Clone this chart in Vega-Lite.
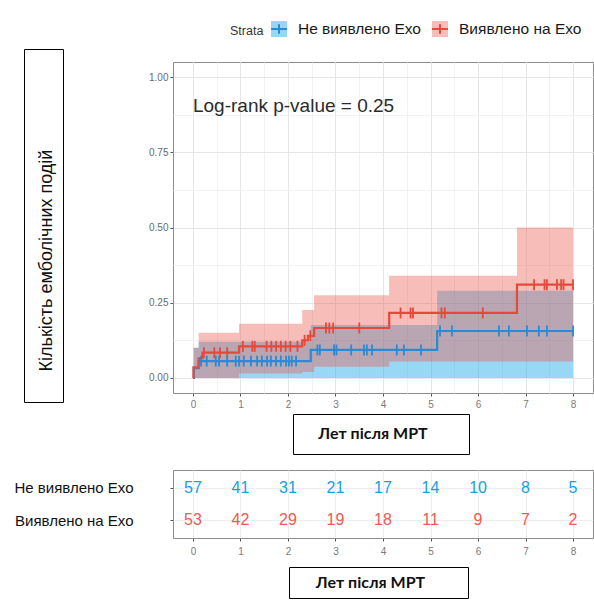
{
  "$schema": "https://vega.github.io/schema/vega-lite/v6.json",
  "padding": {"top": 20, "left": 0, "right": 0, "bottom": 0},
  "autosize": {"type": "pad"},
  "spacing": 0,
  "config": {
    "font": "Liberation Sans",
    "view": {"stroke": null},
    "concat": {"spacing": 0}
  },
  "datasets": {
    "blank": [{}],
    "ytitle": [{"t": "Кількість емболічних подій"}],
    "xtitle": [{"t": "Лет після МРТ"}],
    "note": [{"t": "Log-rank p-value = 0.25"}],
    "groups": [{"strata": "Не виявлено Ехо"}, {"strata": "Виявлено на Ехо"}],
    "lines": [
      {"strata": "Не виявлено Ехо", "time": 0, "p": 0},
      {"strata": "Не виявлено Ехо", "time": 0.02, "p": 0.033},
      {"strata": "Не виявлено Ехо", "time": 0.12, "p": 0.056},
      {"strata": "Не виявлено Ехо", "time": 2.48, "p": 0.093},
      {"strata": "Не виявлено Ехо", "time": 5.14, "p": 0.156},
      {"strata": "Не виявлено Ехо", "time": 8, "p": 0.156},
      {"strata": "Виявлено на Ехо", "time": 0, "p": 0},
      {"strata": "Виявлено на Ехо", "time": 0.01, "p": 0.035},
      {"strata": "Виявлено на Ехо", "time": 0.12, "p": 0.065},
      {"strata": "Виявлено на Ехо", "time": 0.2, "p": 0.084},
      {"strata": "Виявлено на Ехо", "time": 0.97, "p": 0.105},
      {"strata": "Виявлено на Ехо", "time": 2.3, "p": 0.125},
      {"strata": "Виявлено на Ехо", "time": 2.42, "p": 0.14},
      {"strata": "Виявлено на Ехо", "time": 2.55, "p": 0.166},
      {"strata": "Виявлено на Ехо", "time": 4.13, "p": 0.216},
      {"strata": "Виявлено на Ехо", "time": 6.82, "p": 0.31},
      {"strata": "Виявлено на Ехо", "time": 8, "p": 0.31}
    ],
    "bands": [
      {"strata": "Не виявлено Ехо", "time": 0.02, "lo": 0, "hi": 0.1},
      {"strata": "Не виявлено Ехо", "time": 0.12, "lo": 0, "hi": 0.12},
      {"strata": "Не виявлено Ехо", "time": 2.48, "lo": 0, "hi": 0.176},
      {"strata": "Не виявлено Ехо", "time": 5.14, "lo": 0, "hi": 0.29},
      {"strata": "Не виявлено Ехо", "time": 8, "lo": 0, "hi": 0.29},
      {"strata": "Виявлено на Ехо", "time": 0.01, "lo": 0, "hi": 0.1},
      {"strata": "Виявлено на Ехо", "time": 0.12, "lo": 0, "hi": 0.15},
      {"strata": "Виявлено на Ехо", "time": 0.97, "lo": 0.015, "hi": 0.18},
      {"strata": "Виявлено на Ехо", "time": 2.3, "lo": 0.02, "hi": 0.226},
      {"strata": "Виявлено на Ехо", "time": 2.55, "lo": 0.037, "hi": 0.275},
      {"strata": "Виявлено на Ехо", "time": 4.13, "lo": 0.055, "hi": 0.34},
      {"strata": "Виявлено на Ехо", "time": 6.82, "lo": 0.055, "hi": 0.5},
      {"strata": "Виявлено на Ехо", "time": 8, "lo": 0.055, "hi": 0.5}
    ],
    "censor": [
      {"strata": "Виявлено на Ехо", "time": 0.23, "p": 0.084},
      {"strata": "Виявлено на Ехо", "time": 0.45, "p": 0.084},
      {"strata": "Виявлено на Ехо", "time": 0.57, "p": 0.084},
      {"strata": "Виявлено на Ехо", "time": 0.72, "p": 0.084},
      {"strata": "Виявлено на Ехо", "time": 1.05, "p": 0.105},
      {"strata": "Виявлено на Ехо", "time": 1.25, "p": 0.105},
      {"strata": "Виявлено на Ехо", "time": 1.3, "p": 0.105},
      {"strata": "Виявлено на Ехо", "time": 1.55, "p": 0.105},
      {"strata": "Виявлено на Ехо", "time": 1.65, "p": 0.105},
      {"strata": "Виявлено на Ехо", "time": 1.75, "p": 0.105},
      {"strata": "Виявлено на Ехо", "time": 1.85, "p": 0.105},
      {"strata": "Виявлено на Ехо", "time": 1.95, "p": 0.105},
      {"strata": "Виявлено на Ехо", "time": 2.05, "p": 0.105},
      {"strata": "Виявлено на Ехо", "time": 2.2, "p": 0.105},
      {"strata": "Виявлено на Ехо", "time": 2.35, "p": 0.125},
      {"strata": "Виявлено на Ехо", "time": 2.47, "p": 0.14},
      {"strata": "Виявлено на Ехо", "time": 2.8, "p": 0.166},
      {"strata": "Виявлено на Ехо", "time": 2.87, "p": 0.166},
      {"strata": "Виявлено на Ехо", "time": 2.95, "p": 0.166},
      {"strata": "Виявлено на Ехо", "time": 3.5, "p": 0.166},
      {"strata": "Виявлено на Ехо", "time": 4.37, "p": 0.216},
      {"strata": "Виявлено на Ехо", "time": 4.58, "p": 0.216},
      {"strata": "Виявлено на Ехо", "time": 4.63, "p": 0.216},
      {"strata": "Виявлено на Ехо", "time": 5.23, "p": 0.216},
      {"strata": "Виявлено на Ехо", "time": 5.3, "p": 0.216},
      {"strata": "Виявлено на Ехо", "time": 6.1, "p": 0.216},
      {"strata": "Виявлено на Ехо", "time": 7.18, "p": 0.31},
      {"strata": "Виявлено на Ехо", "time": 7.4, "p": 0.31},
      {"strata": "Виявлено на Ехо", "time": 7.45, "p": 0.31},
      {"strata": "Виявлено на Ехо", "time": 7.66, "p": 0.31},
      {"strata": "Виявлено на Ехо", "time": 7.75, "p": 0.31},
      {"strata": "Виявлено на Ехо", "time": 7.8, "p": 0.31},
      {"strata": "Виявлено на Ехо", "time": 8.0, "p": 0.31},
      {"strata": "Не виявлено Ехо", "time": 0.17, "p": 0.056},
      {"strata": "Не виявлено Ехо", "time": 0.29, "p": 0.056},
      {"strata": "Не виявлено Ехо", "time": 0.48, "p": 0.056},
      {"strata": "Не виявлено Ехо", "time": 0.55, "p": 0.056},
      {"strata": "Не виявлено Ехо", "time": 0.72, "p": 0.056},
      {"strata": "Не виявлено Ехо", "time": 0.9, "p": 0.056},
      {"strata": "Не виявлено Ехо", "time": 0.97, "p": 0.056},
      {"strata": "Не виявлено Ехо", "time": 1.07, "p": 0.056},
      {"strata": "Не виявлено Ехо", "time": 1.22, "p": 0.056},
      {"strata": "Не виявлено Ехо", "time": 1.35, "p": 0.056},
      {"strata": "Не виявлено Ехо", "time": 1.45, "p": 0.056},
      {"strata": "Не виявлено Ехо", "time": 1.56, "p": 0.056},
      {"strata": "Не виявлено Ехо", "time": 1.64, "p": 0.056},
      {"strata": "Не виявлено Ехо", "time": 1.75, "p": 0.056},
      {"strata": "Не виявлено Ехо", "time": 1.85, "p": 0.056},
      {"strata": "Не виявлено Ехо", "time": 1.96, "p": 0.056},
      {"strata": "Не виявлено Ехо", "time": 2.02, "p": 0.056},
      {"strata": "Не виявлено Ехо", "time": 2.08, "p": 0.056},
      {"strata": "Не виявлено Ехо", "time": 2.17, "p": 0.056},
      {"strata": "Не виявлено Ехо", "time": 2.62, "p": 0.093},
      {"strata": "Не виявлено Ехо", "time": 2.67, "p": 0.093},
      {"strata": "Не виявлено Ехо", "time": 2.97, "p": 0.093},
      {"strata": "Не виявлено Ехо", "time": 3.02, "p": 0.093},
      {"strata": "Не виявлено Ехо", "time": 3.33, "p": 0.093},
      {"strata": "Не виявлено Ехо", "time": 3.6, "p": 0.093},
      {"strata": "Не виявлено Ехо", "time": 3.66, "p": 0.093},
      {"strata": "Не виявлено Ехо", "time": 3.77, "p": 0.093},
      {"strata": "Не виявлено Ехо", "time": 4.29, "p": 0.093},
      {"strata": "Не виявлено Ехо", "time": 4.44, "p": 0.093},
      {"strata": "Не виявлено Ехо", "time": 4.8, "p": 0.093},
      {"strata": "Не виявлено Ехо", "time": 5.2, "p": 0.156},
      {"strata": "Не виявлено Ехо", "time": 5.45, "p": 0.156},
      {"strata": "Не виявлено Ехо", "time": 6.44, "p": 0.156},
      {"strata": "Не виявлено Ехо", "time": 6.65, "p": 0.156},
      {"strata": "Не виявлено Ехо", "time": 7.03, "p": 0.156},
      {"strata": "Не виявлено Ехо", "time": 7.28, "p": 0.156},
      {"strata": "Не виявлено Ехо", "time": 7.45, "p": 0.156},
      {"strata": "Не виявлено Ехо", "time": 8.0, "p": 0.156}
    ],
    "risk": [
      {"strata": "Не виявлено Ехо", "time": 0, "n": 57},
      {"strata": "Не виявлено Ехо", "time": 1, "n": 41},
      {"strata": "Не виявлено Ехо", "time": 2, "n": 31},
      {"strata": "Не виявлено Ехо", "time": 3, "n": 21},
      {"strata": "Не виявлено Ехо", "time": 4, "n": 17},
      {"strata": "Не виявлено Ехо", "time": 5, "n": 14},
      {"strata": "Не виявлено Ехо", "time": 6, "n": 10},
      {"strata": "Не виявлено Ехо", "time": 7, "n": 8},
      {"strata": "Не виявлено Ехо", "time": 8, "n": 5},
      {"strata": "Виявлено на Ехо", "time": 0, "n": 53},
      {"strata": "Виявлено на Ехо", "time": 1, "n": 42},
      {"strata": "Виявлено на Ехо", "time": 2, "n": 29},
      {"strata": "Виявлено на Ехо", "time": 3, "n": 19},
      {"strata": "Виявлено на Ехо", "time": 4, "n": 18},
      {"strata": "Виявлено на Ехо", "time": 5, "n": 11},
      {"strata": "Виявлено на Ехо", "time": 6, "n": 9},
      {"strata": "Виявлено на Ехо", "time": 7, "n": 7},
      {"strata": "Виявлено на Ехо", "time": 8, "n": 2}
    ]
  },
  "vconcat": [
    {
      "hconcat": [
        {"width": 23, "height": 1, "data": {"name": "blank"}, "mark": {"type": "rect", "opacity": 0}},
        {
          "width": 39, "height": 353,
          "view": {"stroke": "#000000", "strokeWidth": 1},
          "data": {"name": "ytitle"},
          "mark": {"type": "text", "angle": 270, "fontSize": 18, "dx": -35, "dy": 3, "color": "#111111"},
          "encoding": {"text": {"field": "t"}}
        },
        {"width": 84, "height": 1, "data": {"name": "blank"}, "mark": {"type": "rect", "opacity": 0}},
        {
          "resolve": {"scale": {"fill": "independent", "stroke": "independent"}},
          "vconcat": [
            {
              "width": 420, "height": 12,
              "data": {"name": "groups"},
              "transform": [{"filter": "false"}],
              "mark": {"type": "point", "filled": true},
              "encoding": {
                "fill": {"field": "strata", "type": "nominal", "scale": {"domain": ["Не виявлено Ехо", "Виявлено на Ехо"], "range": ["#99D6F3", "#F7BDB9"]},
                  "legend": {"orient": "none", "legendX": 57, "legendY": -29, "direction": "horizontal", "title": "Strata", "titleOrient": "left", "symbolType": "M-1,0L1,0L1,1L-1,1L-1,-1L1,-1L1,0Z M0,-0.6L0,0.6", "symbolSize": 256, "symbolStrokeWidth": 2, "symbolDash": [16, 200], "symbolOpacity": 1, "labelFontSize": 15.5, "labelColor": "#1A1A1A", "titleFontSize": 12.5, "titleFontWeight": "normal", "titleColor": "#333333", "labelOffset": 10, "columnPadding": 7, "titlePadding": 6, "labelLimit": 300}},
                "stroke": {"field": "strata", "type": "nominal", "scale": {"domain": ["Не виявлено Ехо", "Виявлено на Ехо"], "range": ["#2A8AD2", "#E4493C"]},
                  "legend": {"orient": "none", "legendX": 57, "legendY": -29, "direction": "horizontal", "title": "Strata", "titleOrient": "left", "symbolType": "M-1,0L1,0L1,1L-1,1L-1,-1L1,-1L1,0Z M0,-0.6L0,0.6", "symbolSize": 256, "symbolStrokeWidth": 2, "symbolDash": [16, 200], "symbolOpacity": 1, "labelFontSize": 15.5, "labelColor": "#1A1A1A", "titleFontSize": 12.5, "titleFontWeight": "normal", "titleColor": "#333333", "labelOffset": 10, "columnPadding": 7, "titlePadding": 6, "labelLimit": 300}}
              }
            },
            {
              "width": 420, "height": 331,
              "view": {"stroke": "#8C8C8C", "strokeWidth": 1},
              "resolve": {"axis": {"x": "independent", "y": "independent"}},
              "layer": [
                {
                  "data": {"name": "bands"},
                  "transform": [{"filter": "datum.strata === 'Не виявлено Ехо'"}],
                  "mark": {"type": "area", "interpolate": "step-after", "fillOpacity": 0.45},
                  "encoding": {
                    "x": {"field": "time", "type": "quantitative", "scale": {"domain": [-0.42, 8.42], "nice": false, "zero": false},
                      "axis": {"orient": "bottom", "values": [0, 0.5, 1, 1.5, 2, 2.5, 3, 3.5, 4, 4.5, 5, 5.5, 6, 6.5, 7, 7.5, 8], "grid": true, "gridColor": "#F2F2F2", "labels": false, "ticks": false, "domain": false, "title": null}},
                    "y": {"field": "lo", "type": "quantitative", "scale": {"domain": [-0.05, 1.05], "nice": false, "zero": false},
                      "axis": {"orient": "left", "values": [0, 0.125, 0.25, 0.375, 0.5, 0.625, 0.75, 0.875, 1], "grid": true, "gridColor": "#F2F2F2", "labels": false, "ticks": false, "domain": false, "title": null}},
                    "y2": {"field": "hi"},
                    "fill": {"field": "strata", "type": "nominal", "scale": {"domain": ["Не виявлено Ехо", "Виявлено на Ехо"], "range": ["#1CA9E6", "#EC5A50"]}, "legend": null}
                  }
                },
                {
                  "data": {"name": "bands"},
                  "transform": [{"filter": "datum.strata === 'Виявлено на Ехо'"}],
                  "mark": {"type": "area", "interpolate": "step-after", "fillOpacity": 0.4},
                  "encoding": {
                    "x": {"field": "time", "type": "quantitative", "axis": null},
                    "y": {"field": "lo", "type": "quantitative", "axis": null},
                    "y2": {"field": "hi"},
                    "fill": {"field": "strata", "type": "nominal", "legend": null}
                  }
                },
                {
                  "data": {"name": "lines"},
                  "mark": {"type": "line", "interpolate": "step-after", "strokeWidth": 2.2},
                  "encoding": {
                    "x": {"field": "time", "type": "quantitative",
                      "axis": {"orient": "bottom", "values": [0, 1, 2, 3, 4, 5, 6, 7, 8], "grid": true, "gridColor": "#E6E6E6", "labelColor": "#7A7A7A", "labelFontSize": 10, "tickColor": "#555555", "tickSize": 3, "domain": false, "title": null, "labelPadding": 3}},
                    "y": {"field": "p", "type": "quantitative",
                      "axis": {"orient": "left", "values": [0, 0.25, 0.5, 0.75, 1], "format": ".2f", "grid": true, "gridColor": "#E6E6E6", "labelColor": "#6A6A6A", "labelFontSize": 10, "tickColor": "#555555", "tickSize": 3, "domain": false, "title": null, "labelPadding": 2}},
                    "stroke": {"field": "strata", "type": "nominal", "scale": {"domain": ["Не виявлено Ехо", "Виявлено на Ехо"], "range": ["#2A8AD2", "#E4493C"]}, "legend": null}
                  }
                },
                {
                  "data": {"name": "censor"},
                  "mark": {"type": "point", "shape": "M0,-1L0,1", "filled": false, "strokeWidth": 1.8, "size": 120, "opacity": 1},
                  "encoding": {
                    "x": {"field": "time", "type": "quantitative", "axis": null},
                    "y": {"field": "p", "type": "quantitative", "axis": null},
                    "stroke": {"field": "strata", "type": "nominal", "legend": null}
                  }
                },
                {
                  "data": {"name": "note"},
                  "mark": {"type": "text", "align": "left", "baseline": "middle", "fontSize": 19, "color": "#2B2B2B"},
                  "encoding": {
                    "x": {"datum": 0, "type": "quantitative", "axis": null},
                    "y": {"datum": 0.905, "type": "quantitative", "axis": null},
                    "text": {"field": "t"}
                  }
                }
              ]
            }
          ]
        }
      ]
    },
    {"width": 1, "height": 3, "data": {"name": "blank"}, "mark": {"type": "rect", "opacity": 0}},
    {
      "hconcat": [
        {"width": 292, "height": 1, "data": {"name": "blank"}, "mark": {"type": "rect", "opacity": 0}},
        {
          "width": 176, "height": 40,
          "view": {"stroke": "#000000", "strokeWidth": 1},
          "data": {"name": "xtitle"},
          "mark": {"type": "text", "font": "Lato", "fontWeight": "bold", "fontSize": 16, "dx": -8, "color": "#111111"},
          "encoding": {"text": {"field": "t"}}
        }
      ]
    },
    {"width": 1, "height": 14, "data": {"name": "blank"}, "mark": {"type": "rect", "opacity": 0}},
    {
      "hconcat": [
        {"width": 13, "height": 1, "data": {"name": "blank"}, "mark": {"type": "rect", "opacity": 0}},
        {
          "width": 420, "height": 68,
          "view": {"stroke": "#8C8C8C", "strokeWidth": 1},
          "data": {"name": "risk"},
          "mark": {"type": "text", "fontSize": 16},
          "encoding": {
            "x": {"field": "time", "type": "quantitative", "scale": {"domain": [-0.42, 8.42], "nice": false, "zero": false},
              "axis": {"values": [0, 1, 2, 3, 4, 5, 6, 7, 8], "grid": true, "gridColor": "#EDEDED", "labelColor": "#7A7A7A", "labelFontSize": 10, "tickColor": "#555555", "tickSize": 3, "domain": false, "title": null, "labelPadding": 5}},
            "y": {"field": "strata", "type": "nominal", "scale": {"type": "point", "domain": ["Не виявлено Ехо", "Виявлено на Ехо"], "padding": 0.56},
              "axis": {"title": null, "labelFontSize": 15, "labelColor": "#111111", "labelPadding": 37, "tickSize": 3, "tickColor": "#555555", "domain": false, "grid": true, "gridColor": "#EDEDED", "labelLimit": 200}},
            "text": {"field": "n", "type": "quantitative"},
            "color": {"field": "strata", "type": "nominal", "scale": {"domain": ["Не виявлено Ехо", "Виявлено на Ехо"], "range": ["#14A0E4", "#EF5A50"]}, "legend": null}
          }
        }
      ]
    },
    {"width": 1, "height": 9, "data": {"name": "blank"}, "mark": {"type": "rect", "opacity": 0}},
    {
      "hconcat": [
        {"width": 288, "height": 1, "data": {"name": "blank"}, "mark": {"type": "rect", "opacity": 0}},
        {
          "width": 179, "height": 31,
          "view": {"stroke": "#000000", "strokeWidth": 1},
          "data": {"name": "xtitle"},
          "mark": {"type": "text", "font": "Lato", "fontWeight": "bold", "fontSize": 16, "dx": -8, "color": "#111111"},
          "encoding": {"text": {"field": "t"}}
        }
      ]
    }
  ]
}
